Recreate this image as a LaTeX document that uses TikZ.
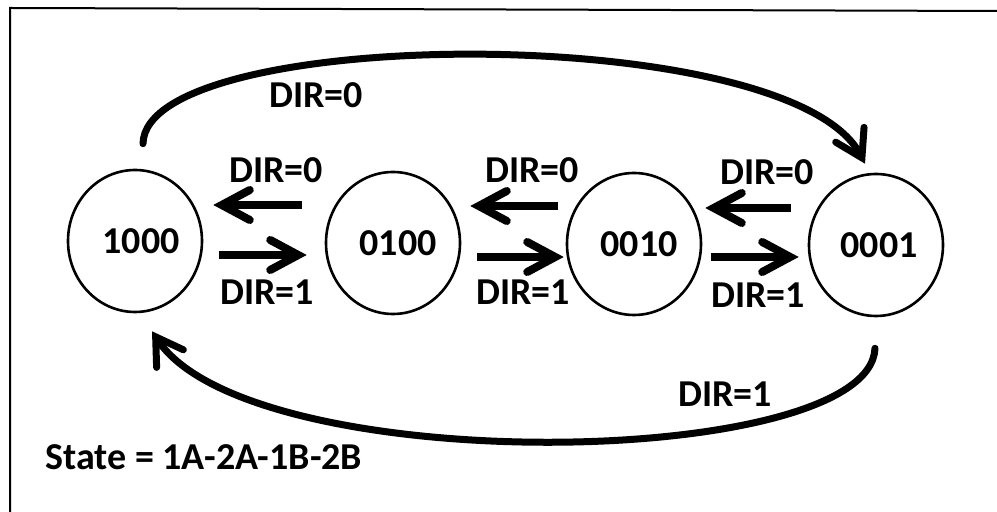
\documentclass[tikz,border=0pt]{standalone}
\usepackage{fontspec}
\setmainfont{Carlito}
\usetikzlibrary{arrows.meta,shapes.geometric}
\begin{document}
\begin{tikzpicture}[x=0.5pt,y=-0.5pt,
  state/.style={draw,line width=1.3pt,ellipse,minimum width=67pt,minimum height=71pt,inner sep=0pt,font=\fontsize{19}{20}\selectfont\bfseries},
  lbl/.style={font=\fontsize{19}{20}\selectfont\bfseries,inner sep=0pt},
  arr/.style={line width=4pt,-{Straight Barb[length=14pt,width=15pt,line cap=round]}},
  bigarr/.style={line width=3.5pt,line cap=round,-{Straight Barb[length=13pt,width=16pt,line cap=round]}}]
\useasboundingbox (0,0) rectangle (997,512);
\draw[line width=1pt] (10,512) -- (10,8) -- (997,11);
\node[state] (a) at (135,241) {\hspace*{6pt}1000};
\node[state] (b) at (393,243) {\hspace*{5pt}0100};
\node[state] (c) at (634,244) {\hspace*{5pt}0010};
\node[state] (d) at (876,245) {\hspace*{3pt}0001};
% straight transitions
\draw[arr,shorten <=11.5pt,shorten >=5pt] ([yshift=19pt]b.west) -- ([yshift=18pt]a.east);
\draw[arr,shorten <=8pt,shorten >=9pt] ([yshift=-7pt]a.east) -- ([yshift=-6pt]b.west);
\draw[arr,shorten <=4pt,shorten >=4.5pt] ([yshift=19pt]c.west) -- ([yshift=18.5pt]b.east);
\draw[arr,shorten <=8pt,shorten >=1pt] ([yshift=-7pt]b.east) -- ([yshift=-6.5pt]c.west);
\draw[arr,shorten <=8.5pt,shorten >=1.5pt] ([yshift=18.5pt]d.west) -- ([yshift=18pt]c.east);
\draw[arr,shorten <=4.5pt,shorten >=4.5pt] ([yshift=-6.5pt]c.east) -- ([yshift=-6pt]d.west);
% wrap-around arcs
\draw[bigarr] ([shift={(4pt,12.5pt)}]a.north) .. controls (145,25) and (790,20) .. ([shift={(-5.5pt,4.5pt)}]d.north);
\draw[bigarr] ([shift={(-0.5pt,-15.5pt)}]d.south) .. controls (870,470) and (250,480) .. ([shift={(8.5pt,-9pt)}]a.south);
% labels
\node[lbl] (l1) at (316,95) {DIR=0};
\node[lbl] (l2) at (276,170) {DIR=0};
\node[lbl] (l3) at (532,170) {DIR=0};
\node[lbl] (l4) at (767,172) {DIR=0};
\node[lbl] (l5) at (267,292) {DIR=1};
\node[lbl] (l6) at (523,292) {DIR=1};
\node[lbl] (l7) at (758,295) {DIR=1};
\node[lbl] (l8) at (725,394) {DIR=1};
\node[lbl,anchor=west] (st) at (45,457) {State = 1A-2A-1B-2B};
\end{tikzpicture}
\end{document}
